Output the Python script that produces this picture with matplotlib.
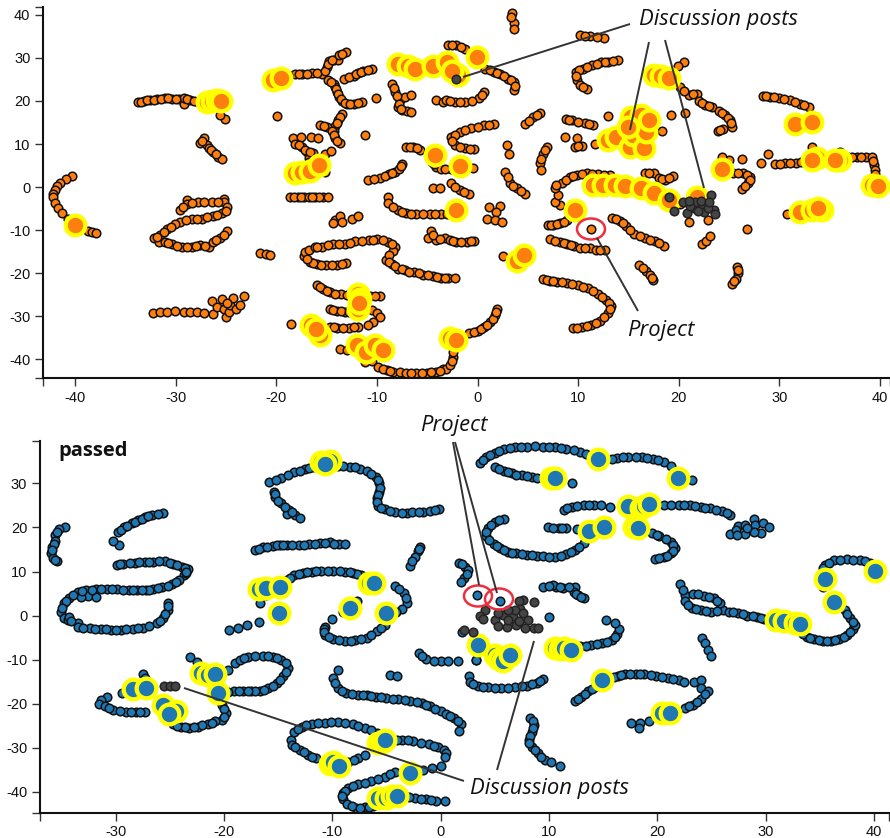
import numpy as np
import matplotlib
matplotlib.use("Agg")
import matplotlib.pyplot as plt
from matplotlib.patches import Ellipse

W, H = 890, 838

# ---- top chart, values ----
top_pts = [
    (-40.35,2.6),(-40.9,1.9),(-41.5,1.0),(-41.8,0.2),(-42,-0.6),(-42.2,-1.5),(-42.2,-2.4),(-42,-3.8),(-41.7,-4.9),(-41.3,-6.1),(-40.7,-7.4),(-38.7,-10.1),(-38.3,-10.4),(-37.9,-10.6),
    (-33.8,19.7),(-33.2,20),(-32.6,20.3),(-31.9,20.4),(-31.1,20.6),(-30.4,20.5),(-29.7,20.4),(-29.2,19.2),(-29.2,20.6),(-28.6,20.3),(-27.8,19.8),(-25.1,15.9),(-25.6,16.7),
    (-27.6,10.3),(-27.2,11.3),(-26.9,9.8),(-26.7,9),(-26.3,8.2),(-25.8,7),(-25.4,6.5),
    (-18.1,26.2),(-17.5,26.2),(-16.5,26.4),(-15.5,26.3),(-15,27.9),(-14.8,29.2),(-14.3,29.6),(-13.9,29.6),(-13.8,30.6),(-13.1,31.4),
    (-14.9,24.8),(-14.3,24),(-14.2,23.3),(-14,22.1),(-13.8,21),(-13.5,20),(-13,19.3),(-12.3,19.4),(-11.5,19.8),
    (-13.3,25.1),(-12.3,25.9),(-11.9,26.4),(-11.4,27),(-10.5,27.3),(-10.1,20.7),(-19.9,16.6),
    (-13.5,16.9),(-13.9,15.5),(-14.2,14.2),(-14.3,13.1),(-14.2,11.3),(-13.7,10.3),(-15.7,14.4),(-15,13.9),(-14.5,13.1),(-11.2,12.1),
    (-18.3,11.5),(-17.6,11.7),(-18.1,10.1),(-17.5,9.2),(-17,8.2),(-16.4,8),(-16.6,11.7),(-15.9,11.5),(-15.2,7.8),(-14.6,8.4),(-16.8,6.7),(-16.7,5.1),(-15.2,3.4),
    (-10.9,1.6),(-9.7,2.2),(-8.8,3),(-8.2,3.6),(-7.8,4.3),(-7.5,5.3),
    (-7.1,9.4),(-6.4,9.2),(-5.7,8.7),(-4.5,5.9),(-4.1,4.7),(-3.6,4.3),(-4.4,-0.15),(-3.7,-0.3),
    (-8.5,24),(-8.2,22.1),(-7.7,20.2),(-7.2,21),(-6.6,21.4),(-7.9,18.6),(-7.5,17.9),(-7.0,17.6),(-6.6,17.5),
    (-4.1,20.2),(-3.4,19.8),(-3.1,20.2),(-2.2,19.8),(-1.2,19.8),(0.1,20.6),(0.6,22.1),
    (-18.6,-2.4),(-17.9,-2.2),(-17.3,-2.2),(-16.2,-2.2),(-15.4,-2.4),
    (-8.9,-2.2),(-8.9,-3.8),(-7.9,-5.3),(-7.1,-6.1),(-6.1,-6.3),(-4.7,-6.3),(-3.6,-6.2),(-2.6,-6.3),
    (-28.9,-2.9),(-25.2,-2.7),(-29.6,-5.3),(-28.9,-3.9),(-27.8,-3.4),(-26.4,-3.4),(-25.2,-3.4),(-24.9,-4.6),(-25.4,-6.1),(-26.3,-6.7),(-27.4,-7.3),(-28.4,-7.5),(-29.6,-8),(-30.1,-8.6),(-30.9,-9.8),(-31.6,-11.1),(-32.2,-11.9),(-31.7,-12.7),(-31.1,-12.7),(-30.4,-13.3),(-29.4,-13.8),(-28.4,-13.8),(-27.6,-13.5),(-26.7,-13.8),(-26.3,-12.7),(-25.6,-11.9),(-24.9,-10.1),(-25.2,-11),
    (-21.6,-15.2),(-21,-15.6),(-20.6,-15.7),
    (-13.1,-17.7),(-14,-18),(-15.1,-18.1),(-16,-17.9),(-16.7,-17.3),(-17.3,-16),(-17.2,-15),(-16.8,-14.5),(-16.2,-14),(-15.5,-13.8),(-14.4,-13.3),(-13.2,-13.1),(-12.2,-12.6),(-10.8,-12.3),(-10,-12.1),(-8.9,-12.7),(-8.2,-13.8),(-8.4,-14.8),(-9.1,-16.8),(-8.5,-17.9),(-7.9,-18.9),(-7.2,-19.3),(-6.3,-19.8),(-5.4,-20.3),(-4.4,-20.7),(-3.6,-21),(-2.9,-21.2),(-2.2,-21.1),
    (-14.2,-7.7),(-13.7,-6.7),(-14.4,-8.4),(-13.5,-8),(-12.5,-7.3),(-11.9,-6.7),
    (-16,-22.7),(-15.4,-23.7),(-14.7,-24.4),(-13.6,-24.9),(-10.7,-25.2),(-9.7,-25.3),
    (-26.4,-26.5),(-26.3,-29.5),(-25.9,-27.8),(-25.4,-26),(-25.2,-28.4),(-25,-30.1),(-24.7,-29),(-24.6,-27.3),(-24.3,-25.7),(-24,-28.2),(-23.6,-27.3),(-23.2,-25.3),(-24.9,-26.8),
    (-32.3,-29.1),(-31.6,-29),(-30.9,-28.9),(-30.1,-28.8),(-29.2,-29),(-28.6,-29),(-27.9,-29),(-27.2,-29.2),
    (-14.7,-28.3),(-14,-28.7),(-13.2,-28.9),(-10.5,-28.6),(-10,-29.3),(-9.7,-30.1),(-10.4,-31.2),(-10.9,-32),
    (-18.5,-31.8),(-14.7,-32.4),(-14,-32.6),(-12.8,-32.6),(-11.9,-32.4),
    (-13.7,-37.6),(-13,-37.8),(-11.2,-40.5),(-10.5,-40.4),
    (-9.9,-41.7),(-9,-42.5),(-8.4,-42.9),(-7.7,-43),(-7.1,-43.2),(-6.1,-43.2),(-5,-43.1),(-4.1,-42.9),(-3.4,-42.1),(-3.1,-42.1),(-2.7,-41.3),(-2.4,-39.4),(-2.4,-38.2),
    (-0.9,-33.9),(0,-33.3),(0.6,-32.4),(1.2,-31.3),(1.7,-29.7),(1.9,-28.2),
    (1.1,-4.6),(2.2,-4.4),(1.8,-5.7),(0.9,-7.4),(1.7,-7.7),(2.4,-8),
    (-4.6,-10.1),(-4.9,-11.7),(-4.1,-12.3),(-3.2,-11.9),(-2.7,-12.3),(-2.1,-12.7),(-1.1,-12.7),(-0.4,-12.5),
    (2.5,-16),(7.2,-12.1),(8.2,-12.7),(8.9,-13.2),(9.6,-13.7),(10.2,-14.2),(11.2,-14.2),(11.8,-14.5),(12.7,-14.6),
    (11.3,-9.8),(7,-8.9),(7.5,-8.8),(8.2,-8.3),(8.9,-7.7),(8.2,-4.2),(7.7,-3.4),
    (13.4,-7.1),(14.2,-7.8),(14.8,-9),(15.6,-10.8),(16.6,-11.8),(17.6,-12.5),(18.5,-13.7),
    (16,-18.1),(16.7,-19.4),(17.1,-20.4),(17.4,-21.6),(22.3,-13.1),(22.7,-12.4),(23.1,-11.3),(26.8,-9.8),
    (25.8,-18.6),(25.9,-20),(25.7,-21.4),(25.3,-22.4),(21,-8.2),(22.9,-7.7),(20.1,-4),(31.4,-5.9),(30.8,-6.3),
    (6.5,-21.4),(7.2,-21.7),(7.9,-22),(8.9,-22.2),(10,-22.8),(11,-23.5),(12,-24.8),(12.8,-26.1),(13.3,-27.5),(13,-29.3),(12.2,-31),(11.3,-31.9),(10.4,-32.4),(9.5,-32.7),
    (3.4,40.3),(3.6,38),(3.3,39.5),(3.6,36.8),(10.2,35.3),(11.2,35),(12.6,34.5),
    (-2.9,33),(-2.1,33),(-1.2,32),(0.7,27.5),(1.6,26.8),(2.2,26.2),(3,25.2),(3.6,24.5),(3.6,22.5),
    (6.2,17.1),(5.5,16.3),(4.7,14.6),(8.8,15.8),(9.4,15.5),(10.7,14.8),(11.5,14.4),(13,16.5),
    (1.6,14.6),(0.6,14.3),(-0.7,13.8),(-1.7,12.8),(-2.6,11.7),(-2.2,9.8),(-1.2,9),(-0.4,8.8),
    (2.9,9.8),(3.1,7.8),(-2.6,4.3),(-1.2,4.3),(-0.5,4.5),(-3.2,4.3),
    (-2.6,0.9),(-1.7,-0.7),(-0.9,-1.5),(2.7,3.6),(3.2,1),(3.9,-0.3),(4.7,-1.5),
    (6.9,9.4),(6.5,7.8),(6.2,5.5),(6.3,4),(9.7,9.4),(10.4,9.5),(8.7,11.7),(9.9,11.5),(11.7,10.1),
    (19.2,16.7),(20.6,17.2),(18.3,13.1),(20.5,29),(19.9,28),
    (13,29.1),(14,29.6),(12.3,29),(11.4,28.3),(10.5,27.4),(9.8,26.8),(9.9,24.8),(10.2,23.7),(10.9,22.7),
    (20.1,23.3),(21,21.4),(21.8,21.7),(22,20),(22.6,19),(23.3,18.5),(24,17.7),(24.6,16.7),(25.1,15.6),(25.3,14),(24.4,13.6),(23.9,13),
    (28.4,21.2),(29.1,21),(30,20.7),(31.1,20.2),(32.1,19.4),(32.9,18.6),
    (28.2,5.5),(28.9,7.7),(29.6,5.3),(30.6,5.5),(31.7,5.7),(33.2,9.4),(36,8.2),(36.8,7),(37.7,6.9),(38.6,7),(39.2,7),(39.4,5.1),(39.5,3.9),
    (26.3,6.5),(25,6.3),(24.3,7),(24.3,5),(25.4,3.3),(26.4,3.2),(27.1,2.4),(26.9,0.9),(26.3,-0.5),
    (8,-1.8),(7.7,-0.3),(8.4,1),(9.2,2.4),(9.9,2.8),(10.9,3.2),(12,3),(13.2,2.8),
    (16.6,3.2),(17.5,3.2),(18,2),(18.6,1.6),(19.4,2.6),
    # second pass along the curves, beads between the ones above
    (-33.5,19.8),(-32.9,20.2),(-32.2,20.3),(-31.5,20.5),(-30.8,20.6),(-30,20.5),(-28.9,20.4),(-28.2,20.1),
    (-27.4,10.8),(-26.5,8.6),(-26,7.6),(-18.8,26),(-17.8,26.2),(-17,26.3),(-16,26.4),(-15.2,27),(-14.9,28.6),(-14.5,29.4),(-13.5,31),
    (-14.6,24.4),(-14.1,22.7),(-13.9,21.5),(-13.6,20.4),(-13.2,19.6),(-12.7,19.3),(-11.9,19.6),
    (-12.8,25.5),(-12.1,26.2),(-11.6,26.7),(-10.9,27.2),(-13.7,16.2),(-14,14.8),(-14.3,12.2),(-14,10.8),(-15.3,14.1),
    (-17.8,9.7),(-17.2,8.7),(-16.7,8.1),(-16.8,5.9),(-10.3,1.9),(-9.2,2.6),(-8.5,3.3),(-7.6,4.8),
    (-6.7,9.3),(-6,9),(-4.3,5.3),(-8.3,23),(-8,21.1),(-7.8,19.4),(-7.6,18.2),(-2.7,19.9),(-1.7,19.8),(-0.6,20.1),(0.4,21.4),
    (-18.2,-2.3),(-17.6,-2.2),(-16.8,-2.2),(-15.8,-2.3),(-16.5,-2.3),(-14.9,-2.4),
    (-8.4,-4.6),(-7.5,-5.8),(-6.6,-6.2),(-5.4,-6.3),(-4.2,-6.3),(-3,-6.3),
    (-29.3,-4.6),(-28.4,-3.6),(-27.2,-3.4),(-25.8,-3.4),(-25,-5.5),(-25.9,-6.4),(-26.9,-7),(-27.9,-7.4),(-29,-7.7),(-30.5,-9.2),(-31.2,-10.5),(-31.9,-11.5),(-30.8,-13),(-29.9,-13.6),(-28.9,-13.8),(-28,-13.7),(-27.1,-13.7),(-26,-12.3),
    (-13.5,-17.9),(-14.5,-18),(-15.6,-18),(-16.4,-17.6),(-17,-16.7),(-16,-13.9),(-14.9,-13.5),(-13.8,-13.2),(-12.7,-12.9),(-11.5,-12.4),(-10.4,-12.2),(-9.4,-12.3),(-8.5,-13.2),(-8.8,-15.8),(-8.8,-17.4),(-8.2,-18.4),(-7.5,-19.1),(-6.8,-19.6),(-5.8,-20),(-4.9,-20.5),(-4,-20.9),(-3.2,-21.1),
    (-15.7,-23.2),(-15,-24.1),(-14.2,-24.7),(-13,-25),(-10.2,-25.3),(-14.4,-28.5),(-13.6,-28.8),(-12.8,-28.9),(-14.3,-32.5),(-13.4,-32.6),(-12.3,-32.5),
    (-9.4,-42.1),(-8.7,-42.7),(-6.6,-43.2),(-5.5,-43.2),(-4.6,-43),(-3.7,-42.6),(-2.5,-40.4),(-0.4,-33.6),(0.3,-32.9),(0.9,-31.9),(1.5,-30.5),(1.8,-29),
    (-4.4,-11),(-3.7,-12.1),(-2.4,-12.5),(-1.6,-12.7),(-0.7,-12.6),(7.7,-12.4),(8.6,-13),(9.3,-13.5),(10.7,-14.2),(12.2,-14.5),(7.3,-8.8),(7.9,-8.6),(8.6,-8),
    (13.8,-7.4),(14.5,-8.4),(15.2,-9.9),(16.1,-11.3),(17.1,-12.2),(18,-13),(16.4,-18.8),(17.3,-21),(25.9,-19.3),(25.5,-21.9),
    (6.9,-21.5),(7.5,-21.8),(8.4,-22.1),(9.4,-22.5),(10.5,-23.1),(11.5,-24.1),(12.4,-25.4),(13.1,-26.8),(13.2,-28.4),(12.6,-30.2),(11.8,-31.5),(10.9,-32.2),(9.9,-32.6),
    (10.7,35.1),(11.9,34.8),(-2.5,33),(-1.6,32.5),(1.2,27.1),(1.9,26.5),(2.6,25.7),(3.3,24.9),(3.7,23.4),
    (5.9,16.7),(5.1,15.4),(9.1,15.6),(10,15.1),(11.1,14.6),(1.1,14.5),(0,14),(-1.2,13.3),(-2.2,12.2),(-2.5,10.7),(-1.7,9.4),(-0.8,8.9),
    (-2.2,0.1),(-1.3,-1.1),(3,2.3),(3.5,0.3),(4.3,-0.9),(6.7,8.6),(6.3,6.6),(10,9.5),
    (12.7,29),(13.5,29.3),(11.9,28.6),(10.9,27.9),(10.1,27.1),(9.8,25.8),(10.5,23.2),
    (20.5,22.4),(21.4,21.6),(22.3,19.5),(23,18.9),(24.3,17.2),(24.9,16.1),(25.2,14.8),(24.1,13.3),
    (28.7,21.1),(29.5,20.9),(30.5,20.5),(31.6,19.8),(32.5,19),(30.1,5.4),(31.1,5.6),(32.2,5.8),(37.2,7),(38.1,6.9),(39.3,6),(39.5,3),
    (25.9,3.3),(26.8,2.9),(27.1,1.6),(26.6,0.2),(7.8,0.4),(8.8,1.7),(9.5,2.6),(10.4,3),(11.4,3.1),(12.6,2.9),(17,3.2),(18.3,1.8),(19,2.1),
]
top_big = [
    (-40,-8.9),(-26.9,19.8),(-26.4,20),(-25.9,20.2),(-25.5,19.9),(-20.3,24.8),(-19.5,25.4),
    (-18.1,3.3),(-17.5,3.6),(-16.7,3.7),(-15.8,5.1),(-7.9,28.5),(-6.9,28),(-6.2,27.4),(-4.4,28.1),(-3,29),(-1.9,26),(-2.5,27),(-0.1,30.2),
    (-4.2,7.4),(-1.7,4.9),(-2.1,-5.2),(-16.6,-32),(-15.7,-34.3),(-16.1,-33),
    (-11.9,-24.8),(-11.7,-26),(-11.9,-28.2),(-11.8,-27),(-12,-36.7),(-11.1,-38.2),(-10.2,-36.7),(-9.4,-37.8),
    (-2.7,-35.1),(-2.1,-35.5),(3.9,-17.2),(4.6,-15.8),(9.7,-5.3),
    (17.5,26),(18.2,25.7),(19,25.4),(13,10.9),(13.8,11.7),(15.2,9.4),(15.5,12.1),(16.5,9),(16.7,12.8),(15.3,16.3),(16.2,16.8),(17,15.6),(15,14),
    (11.5,0.5),(12.5,0.5),(13.7,0.5),(14.7,0.3),(16.2,-0.3),(17.5,-1.3),(19,-3),(21.8,-2.2),
    (24.3,4.3),(31.6,14.6),(33.2,15.2),(33.7,6.7),(33.2,6.2),(36,6.4),(35.5,6.2),(39.2,0.5),(39.8,0.2),
    (32.1,-5.7),(33.2,-5.3),(34.2,-5.2),(33.8,-4.8),
]
top_dark = [
    (-2.1,25),(19,-2.4),(23.2,-1.9),(19.5,-5.5),(20.8,-6.1),(21.5,-4.9),(22.3,-4.2),(22.5,-5.7),(23.5,-5.3),(23.6,-6.3),
    (21.6,-3.4),(21.1,-4.4),(22.9,-4.9),(21.9,-5.6),(20.4,-3.4),(21,-3.2),(22.2,-3.2),(23,-3.4),
]

# ---- bottom chart ----
bottom_pts = [
    (-34.7,20),(-35.2,19.6),(-35.6,18.3),(-35.6,17),(-35.9,15.6),(-36,14.1),(-35.8,13),(-35.4,12.4),
    (-29.7,16),(-30.2,17),(-29.8,18.9),(-29.2,20),(-28.5,20.9),(-27.9,21.7),(-27.3,22.3),(-26.6,22.8),(-25.6,23.2),
    (-29.9,11.5),(-29.3,11.8),(-28.2,12),(-27.3,12.2),(-26.5,12.2),(-25.4,12.4),(-24.7,11.6),(-23.9,11.1),(-23.3,10.6),(-23.7,9.2),(-24.1,8.1),(-24.8,7.2),(-25.7,6.4),(-26.5,6),(-27.2,5.8),(-28,5.7),(-28.8,5.8),(-29.9,6),(-30.8,6),(-31.8,6),(-32.7,5.7),(-33.5,5.3),(-34.3,3.9),(-34.8,2.8),(-35,0.8),(-34.8,-0.6),(-34.4,-1),(-33.5,-1.7),
    (-32.5,4.5),(-31.8,4.3),(-33.2,4.3),(-33.5,-2.5),(-32.4,-2.9),(-31.3,-3),(-30.4,-3.2),(-29.5,-3.2),(-28.4,-3),(-27.5,-2.7),(-26.2,-1.7),(-25.6,-0.6),(-25.2,1.3),(-25.2,2.9),
    (-15.8,30.2),(-14.7,31.1),(-13.5,32.5),(-12.5,33.2),(-11.8,33.6),(-9.5,33.9),(-8.4,33.8),(-7.4,33.3),(-6.8,32.8),(-6,31.5),(-5.7,30),(-5.7,28.1),(-5.9,26.6),(-5.8,24.9),(-5.1,24.1),(-4.2,23.4),(-3.1,23.2),(-2.6,23.4),(-1.6,23.6),(-1,23.8),(-0.1,24.2),
    (-15.4,28.1),(-15.3,26.8),(-14.7,25.5),(-14,24),(-13.4,22.8),(-13,22.2),(-14.2,23.1),
    (-17.1,14.9),(-16.4,15.5),(-15.5,15.8),(-14.8,15.9),(-14.2,15.9),(-13.1,16.1),(-12.1,16.2),(-11.1,16.4),(-10.2,16.6),(-9.4,16.2),(-8.8,16.2),
    (-1.9,15.6),(-2.1,14.7),(-2.4,13.4),(-2.8,11.3),
    (-4.2,6.7),(-3.4,5.2),(-3.1,2.9),(-3.6,1.4),(-4.1,0.9),(-5,-1),(-7.3,9.2),(-8.1,9.6),(-8.8,10),(-9.9,10.2),(-11,10.2),(-11.9,10),(-12.7,9.6),(-13.5,9.1),(-14.2,8.1),
    (-16.1,4.7),(-16.7,2.8),(-7.7,3.2),(-10,-0.8),(-10.7,-2.5),(-9,0.8),(-16.8,-1.5),(-17.9,-2.1),(-19.5,-3.2),(-18.7,-2.7),
    (-10.8,-3),(-10.7,-4.4),(-9.9,-5.3),(-8.8,-5.7),(-7.9,-5.5),(-6.8,-5),(-5.9,-3.6),(-5.1,-2.1),
    (-2,-8.4),(-1.3,-9.9),(0,-10.4),(0.7,-10.4),(1.6,-10.4),(3.3,-10),
    (-23.1,-9.3),(-22.5,-10.6),(-19.6,-12.3),(-19,-10.8),(-18.5,-10),(-17.8,-9.4),(-16.4,-9.1),(-15.5,-9.4),(-14.7,-10),(-14.1,-11.8),(-14.5,-13.6),(-15.1,-15.3),(-15.9,-16.5),(-16.7,-17),(-17.5,-17.1),(-18.2,-17.1),(-19.1,-17.2),(-19.6,-17.4),
    (-20.4,-18.4),(-20.2,-20.2),(-19.8,-22.1),(-20.2,-23.7),(-20.8,-24),(-21.5,-24.6),(-22.4,-25.2),(-23.2,-25.4),(-24,-25.2),(-24.7,-24.6),
    (-27.5,-13.3),(-27.3,-14.2),(-29.4,-17.6),(-30.8,-18.4),(-31.3,-19.1),(-31.5,-20.1),(-31,-20.5),(-30.2,-21.4),(-29,-21.8),(-28.1,-21.9),(-27.3,-21.8),
    (-9.5,-12.3),(-9.9,-14.2),(-9.5,-16.5),(-8.7,-17.5),(-7.6,-18),(-6.8,-18.1),(-6,-18.4),(-5,-18.6),(-3.9,-19),(-2.8,-19.3),(-1.7,-19.9),(-1,-20.6),(0,-21.6),(0.55,-22.4),(1.2,-23.3),(1.9,-24.6),(1.7,-26.1),
    (-4.7,-13.4),(-4,-13.7),
    (-13.5,-26.3),(-12.8,-25.2),(-11.9,-24.6),(-10.7,-24.3),(-9.5,-24.2),(-8.1,-24.6),(-7,-25.4),(-5.9,-26.7),(-4.5,-28),(-3.6,-28.2),(-2.5,-28.4),(-1.1,-29.2),(-0.2,-29.7),(0.3,-30.5),(0.55,-31.2),(0.4,-32),(0,-34),(-0.8,-34.5),(-1.6,-35),
    (-4.2,-35.5),(-5.1,-36.5),(-6.4,-37.5),(-7.6,-38.2),(-8.5,-39.1),(-9,-40.3),(-9,-41.6),(-8.6,-42.7),(-7.8,-43.7),(-7,-43.5),(-6.2,-43.2),(-5.4,-42.4),
    (-3.3,-40.9),(-2.4,-41.3),(-1.3,-41.6),(-0.4,-42),(0.4,-42),
    (-13.8,-28.2),(-13.7,-29.3),(-13,-30.5),(-12.2,-31.6),(-11.5,-32.3),(-8.5,-33.1),(-7.6,-32.3),(-7,-31.7),
    (2,-3.8),(5,-9.7),(3.3,-10),(2.6,-13.8),(2.7,-15),(3.5,-15.9),(4.4,-16.3),(5.6,-16.5),(6.9,-16.2),(8,-15.9),(8.9,-15.3),(9.5,-14.4),
    (12.9,-7),(13.9,-6.6),(14.9,-6.3),(15.8,-5.5),(16.3,-4.2),(16.5,-3),(15.3,-1.1),(16.1,-1.7),
    (24.1,-5.1),(24.4,-6.3),(24.7,-7.8),(25,-9.1),
    (8.3,-23.3),(8.6,-24.8),(8.4,-26.4),(8.2,-28.2),(8.4,-29.7),(9,-31.2),(9.6,-32.7),(10.2,-33.3),(11,-34),
    (12.4,-19.3),(13,-18.4),(13.6,-17.2),(14.3,-16.1),(15.5,-14.4),(16.4,-13.6),(17,-13.3),(18,-13.3),(18.8,-13.3),(19.9,-13.7),(21,-14.2),(22,-14.6),(22.5,-15),(23.4,-15),(24,-14.6),(24,-16.5),(24.7,-17.2),(24,-18.9),(23.3,-20.2),(22.6,-21),(19.2,-23.9),(18.4,-24.4),(17.6,-24.4),(18.3,-25.4),
    (33.2,-3.5),(33.8,-4.8),(34.5,-5.4),(35.3,-5.7),(36,-5.7),(36.8,-5.3),(37.5,-4.4),(38.1,-3),
    (3.6,34.5),(4.2,36),(5,36.8),(5.9,37.7),(6.9,38.2),(8,38.3),(9.5,38.3),(10.6,38.2),(11.6,37.8),(12.9,37.2),(16.3,35.7),(17.3,36),(18.6,36),(19.6,35.5),(20.6,34.8),(21.3,34),(23.2,30.8),
    (5,33.6),(5.9,32.8),(6.6,32.3),(7.5,31.8),(8.4,31.4),(12.1,30),
    (11.4,24),(12.1,24.7),(13.2,25.1),(14.2,25.1),(15.6,24.6),(20.6,25),(22,25.1),(23,25.1),(24,24.7),(24.9,24.3),(26,23.7),(26.7,22.8),
    (26.7,18.5),(27.5,20.3),(28.1,20.5),(28.9,22),(29,20.5),(29.8,20.9),(30.3,20.2),(29.6,18.8),(28.9,19),(28.1,18.5),(28.3,19.8),(27.3,19.4),(27.4,18.2),
    (5.9,22),(5,21.3),(4.4,19.8),(4.2,18),(4.9,16.2),(5.5,15.3),(6.2,14.5),(7,14.1),(8,13.8),(8.9,13.6),(9.5,13.5),(10.6,13.4),(11.6,13.9),(12.4,14.9),(13.2,16.4),
    (12.6,19.6),(11.6,19.8),(10.9,19.8),(9.9,20),(19.5,18.7),(20.2,18),(21.3,16.8),(21.6,15.3),(21.3,14.1),(20.6,13.2),(19.8,12.9),
    (1.7,12),(2.3,11.1),(2.5,10.4),(2.2,8.5),(1.9,7.7),(3.4,4.7),(5.5,3.3),(10,-0.4),
    (9.5,6.6),(10.7,6.6),(11.3,6.2),(12.4,6.6),(12.3,5.4),(12.7,4.7),(13.2,3.9),(10.4,7),
    (22.1,7.1),(22.6,4.7),(22.6,3.2),(23.2,1.7),(24,1.3),(25,0.9),(26.1,1.3),(26.6,0.9),(27.5,0.7),(28.3,0),(29.2,-0.4),(29.9,-0.8),(23.3,5),(24.3,4.5),(25.2,3.9),(25.8,2.8),
    (35.3,10),(35.5,11.5),(36.3,12.5),(37.5,12.8),(38.7,12.6),(39.6,11.9),(35.3,6.6),(37.3,1.3),(37.8,-0.6),(38.3,-2.1),
    (-34.3,-0.3),(-23.5,9.7),
    # second pass along the curves, beads between the ones above
    (-35.4,19),(-35.7,16.3),(-35.9,14.8),(-35.6,12.7),(-29.5,19.5),(-28.9,20.4),(-28.2,21.3),(-27.6,22),(-27,22.6),(-26.1,23),
    (-29.6,11.7),(-28.7,11.9),(-27.8,12.1),(-26.9,12.2),(-26,12.3),(-25,12),(-24.3,11.4),(-23.6,10.9),(-23.5,9.9),(-24.4,7.7),(-25.2,6.8),(-26.1,6.2),(-26.9,5.9),(-27.6,5.7),(-28.4,5.7),(-29.3,5.9),(-30.3,6),(-31.3,6),(-32.2,5.9),(-33.1,5.5),(-33.9,4.6),(-34.6,3.3),(-34.9,1.8),(-34.1,-1.3),
    (-33,-2.7),(-31.9,-3),(-30.9,-3.1),(-30,-3.2),(-29,-3.1),(-27.9,-2.9),(-26.9,-2.3),(-25.9,-1.2),(-25.4,0.3),(-25.2,2.1),
    (-15.2,30.7),(-14.1,31.8),(-13,32.9),(-12.1,33.4),(-9,33.9),(-7.9,33.6),(-6.4,32.2),(-5.8,30.8),(-5.6,29),(-5.8,27.3),(-5.9,25.7),(-5.5,24.5),(-4.7,23.7),(-3.6,23.3),(-2,23.5),(-0.5,24),
    (-15.3,27.5),(-15,26.1),(-14.4,24.7),(-13.7,23.4),(-16.8,15.2),(-16,15.6),(-15.1,15.9),(-14.5,15.9),(-13.7,16),(-12.6,16.1),(-11.6,16.3),(-10.7,16.5),(-9.8,16.3),
    (-2.6,12.3),(-2,15.1),(-3.8,6),(-3.2,4),(-7.7,9.4),(-8.4,9.8),(-9.3,10.1),(-10.4,10.2),(-11.5,10.1),(-12.3,9.8),(-13.1,9.4),(-13.9,8.6),
    (-10.8,-3.7),(-10.3,-4.9),(-9.4,-5.5),(-8.3,-5.7),(-7.3,-5.3),(-6.4,-4.4),(-5.5,-2.9),
    (-1.7,-9.2),(-0.6,-10.2),(-18.1,-9.7),(-17.1,-9.2),(-15.9,-9.2),(-15.1,-9.7),(-14.3,-10.8),(-14.3,-12.7),(-14.8,-14.5),(-15.5,-16),(-16.3,-16.8),(-17.1,-17.1),(-17.8,-17.1),(-18.6,-17.1),
    (-20.3,-19.3),(-20,-21.2),(-20,-23),(-21.1,-24.3),(-22,-24.9),(-22.8,-25.3),(-23.6,-25.3),(-24.3,-25),(-29.6,-21.6),(-30.6,-21),(-28.6,-21.9),(-27.7,-21.9),
    (-9.7,-15.3),(-9.1,-17),(-8.2,-17.8),(-7.2,-18),(-6.4,-18.2),(-5.5,-18.5),(-4.4,-18.8),(-3.3,-19.1),(-2.2,-19.6),(-1.3,-20.2),(-0.5,-21.1),(0.9,-22.8),(1.6,-24),
    (-13.2,-25.7),(-12.4,-24.9),(-11.3,-24.4),(-10.1,-24.2),(-8.8,-24.4),(-7.6,-25),(-6.4,-26),(-4,-28.1),(-3,-28.3),(-1.8,-28.8),(-0.6,-29.5),
    (-4.7,-36),(-5.8,-37),(-7,-37.9),(-8.1,-38.6),(-8.8,-39.7),(-9.1,-41),(-8.2,-43.2),(-7.4,-43.6),(-6.6,-43.4),(-2.9,-41.1),(-1.8,-41.5),(-0.9,-41.8),
    (-13.4,-29.9),(-12.6,-31),(-11.9,-32),(-8,-32.7),(3,-15.5),(3.9,-16.1),(5,-16.4),(6.2,-16.4),(7.5,-16),(8.4,-15.6),(9.2,-14.9),
    (13.4,-6.8),(14.4,-6.5),(15.4,-5.9),(16.1,-4.9),(8.5,-24),(8.5,-25.6),(8.3,-27.3),(8.2,-29),(8.7,-30.4),(9.3,-32),
    (12.7,-18.8),(13.3,-17.8),(14,-16.6),(16,-14),(16.7,-13.4),(17.5,-13.3),(18.4,-13.3),(19.4,-13.5),(20.4,-13.9),(21.5,-14.4),(23.7,-19.6),(22.9,-20.6),(24.4,-17.8),
    (33.5,-4.2),(34.1,-5.1),(34.9,-5.6),(35.7,-5.7),(36.4,-5.5),(37.2,-4.9),(37.8,-3.7),
    (3.9,35.3),(4.6,36.4),(5.4,37.3),(6.4,38),(7.4,38.3),(8.7,38.4),(10,38.3),(11.1,38),(12.3,37.5),(13.4,36.7),(15.8,35.6),(16.8,35.9),(18,36),(19.1,35.8),(20.1,35.2),
    (5.4,33.2),(6.2,32.6),(7,32),(8,31.6),(8.9,31.3),(11.7,24.4),(12.6,24.9),(13.7,25.1),(14.8,25),(21.3,25.1),(22.5,25.1),(23.5,24.9),(24.4,24.5),(25.4,24),(26.4,23.3),
    (5.4,21.7),(4.7,20.5),(4.2,18.9),(4.5,17.1),(5.2,15.7),(5.9,14.9),(6.6,14.3),(7.5,14),(8.4,13.7),(10,13.4),(11.1,13.6),(12,14.4),(12.8,15.6),
    (11.2,19.8),(10.4,19.9),(20,18.3),(20.8,17.4),(21.5,16),(21.5,14.7),(20.9,13.6),(20.2,13),(2,11.6),(2.4,9.4),(10,6.8),(11,6.4),(11.9,6.4),(12.5,5),(13,4.3),
    (22.4,5.9),(22.8,2.4),(23.6,1.5),(24.5,1.1),(25.5,1.1),(27,0.8),(27.9,0.4),(28.8,-0.2),(29.6,-0.6),(23.8,4.8),(24.8,4.2),(25.5,3.4),
    (35.3,10.8),(35.9,12),(36.9,12.7),(38.1,12.7),(39.2,12.3),(37.5,0.4),(38.1,-1.4),
]
bottom_big = [
    (-11,34.8),(-10.2,35),(-10.7,34.4),(-6.6,7.4),(-6.1,7.5),(-16.8,6),(-16.1,6.2),(-14.8,6.6),(-14.9,0.5),(-8.4,1.8),(-5,0.7),
    (-28.4,-16.6),(-27.2,-16.5),(-25.6,-20.2),(-24.4,-21.6),(-25.1,-22.4),(-22.1,-13.1),(-21.5,-13.4),(-20.8,-13.3),(-20.5,-17.6),
    (-5.8,-29),(-5.4,-28.6),(-5.1,-28.2),(-10.2,-33.6),(-9.9,-33.3),(-9.4,-34),(-2.8,-35.7),
    (-5.8,-41.4),(-5,-41.3),(-4.5,-41),(-4,-40.8),
    (3.5,-6.6),(5,-8.9),(5.4,-9.8),(5.8,-10.4),(6.4,-8.9),(10.6,-7.4),(11,-7.6),(11.4,-7.4),(12,-7.8),
    (14.9,-14.6),(20.4,-22.1),(21.2,-22.1),
    (14.5,35.5),(10.2,31.1),(10.6,31.2),(21.9,31.1),
    (17.3,24.9),(18.5,24.5),(18.8,24.9),(19.2,25.4),(13.7,19.3),(15.1,20.2),(17.9,20),(18.2,19.8),
    (31,-1),(31.7,-1.3),(32.7,-1.6),(33.2,-2),(36.3,3),(35.5,8.2),(40.1,10.2),
]
bottom_dark = [
    (7.6,3.6),(8.6,3),(7.2,3.3),(4.1,1.3),(3.6,0),(3.9,-0.8),(5.8,0.1),(6.7,-0.2),(7.3,1.6),(8.1,-1),(5,-1),(6.9,1.3),(6.2,1.3),(5.3,0.5),(7.6,0.5),
    (7.8,-2.9),(8.6,-2.7),(9,-2.7),(6.1,-2.5),(5.3,-2.3),(7,-2.2),(6.2,-1),(7.2,-1.2),(2.2,-3.2),(3,-3.8),
    (-25.5,-16),(-25,-16),(-24.5,-16),
]

y_ticks_top = [40, 30, 20, 10, 0, -10, -20, -30, -40]
x_ticks_top = [-40, -30, -20, -10, 0, 10, 20, 30, 40]
y_ticks_bottom = [30, 20, 10, 0, -10, -20, -30, -40]
x_ticks_bottom = [-30, -20, -10, 0, 10, 20, 30, 40]

ORANGE = "#ff7f0e"
BLUE = "#1f77b4"
DARK = "#454545"
YELLOW = "#ffff00"
RED = "#ee2e3c"
INK = "#111111"

plt.rcParams["font.family"] = ["Liberation Sans", "DejaVu Sans"]


def make_axes(left, top, right, bottom, xlim, ylim, xticks, yticks):
    ax = fig.add_axes([left / W, 1 - bottom / H, (right - left) / W, (bottom - top) / H])
    ax.set_xlim(*xlim)
    ax.set_ylim(*ylim)
    ax.patch.set_alpha(0)
    ax.spines["top"].set_visible(False)
    ax.spines["right"].set_visible(False)
    ax.spines["left"].set_linewidth(1.5)
    ax.spines["bottom"].set_linewidth(1.5)
    ax.spines["left"].set_color(INK)
    ax.spines["bottom"].set_color(INK)
    # the domain end ticks have no label
    ax.set_xticks(list(xticks) + [xlim[0], xlim[1]])
    ax.set_xticklabels([str(t) for t in xticks] + ["", ""])
    ax.set_yticks(list(yticks) + [ylim[0], ylim[1]])
    ax.set_yticklabels([str(t) for t in yticks] + ["", ""])
    ax.tick_params(length=6, width=1, color="#333333", labelsize=10.5, pad=3, labelcolor=INK)
    return ax


def draw_points(ax, pts, big, dark, color):
    pts = np.array(pts)
    big = np.array(big)
    dark = np.array(dark)
    ax.scatter(pts[:, 0], pts[:, 1], s=38, c=color, edgecolors="#111111", linewidths=1.1, zorder=3, clip_on=False)
    ax.scatter(big[:, 0], big[:, 1], s=200, c=color, edgecolors=YELLOW, linewidths=3.1, zorder=4, clip_on=False)
    ax.scatter(dark[:, 0], dark[:, 1], s=38, c=DARK, edgecolors="#222222", linewidths=1.1, zorder=5, clip_on=False)


fig = plt.figure(figsize=(W / 100, H / 100), dpi=100)

ax_top = make_axes(43, 7, 890, 378, (-43.2, 41.0), (-44.3, 41.8), x_ticks_top, y_ticks_top)
draw_points(ax_top, top_pts, top_big, top_dark, ORANGE)

ax_bottom = make_axes(39.7, 441, 889, 812.7, (-37.0, 41.4), (-44.7, 39.6), x_ticks_bottom, y_ticks_bottom)
draw_points(ax_bottom, bottom_pts, bottom_big, bottom_dark, BLUE)

# annotations are placed in pixels, on a see-through layer over both charts
over = fig.add_axes([0, 0, 1, 1], zorder=10)
over.set_xlim(0, W)
over.set_ylim(H, 0)
over.axis("off")

leader_lines = [
    ((630, 24), (463, 77)), ((649, 42), (630, 130)), ((665, 40), (704, 188)), ((597, 238), (638, 311)),
    ((453, 442), (479, 585)), ((455, 442), (497, 593)), ((184, 688), (464, 781)), ((534, 641), (497, 770)),
]
for (x0, y0), (x1, y1) in leader_lines:
    over.plot([x0, x1], [y0, y1], color="#333333", lw=1.4, solid_capstyle="butt")

for cx, cy in [(591, 229), (478, 596), (499, 599)]:
    over.add_patch(Ellipse((cx, cy), 28, 21, fill=False, edgecolor=RED, lw=1.8))

label_font = ["Open Sans", "DejaVu Sans"]
over.text(718.5, 19, "Discussion posts", style="italic", fontsize=15.8, family=label_font, ha="center", va="center", color=INK)
over.text(549, 788, "Discussion posts", style="italic", fontsize=15.8, family=label_font, ha="center", va="center", color=INK)
over.text(661, 330, "Project", style="italic", fontsize=15.8, family=label_font, ha="center", va="center", color=INK)
over.text(454, 425, "Project", style="italic", fontsize=15.8, family=label_font, ha="center", va="center", color=INK)
over.text(93, 451, "passed", weight="bold", fontsize=14.5, family=label_font, ha="center", va="center", color=INK)

fig.savefig("out.png", dpi=100)
